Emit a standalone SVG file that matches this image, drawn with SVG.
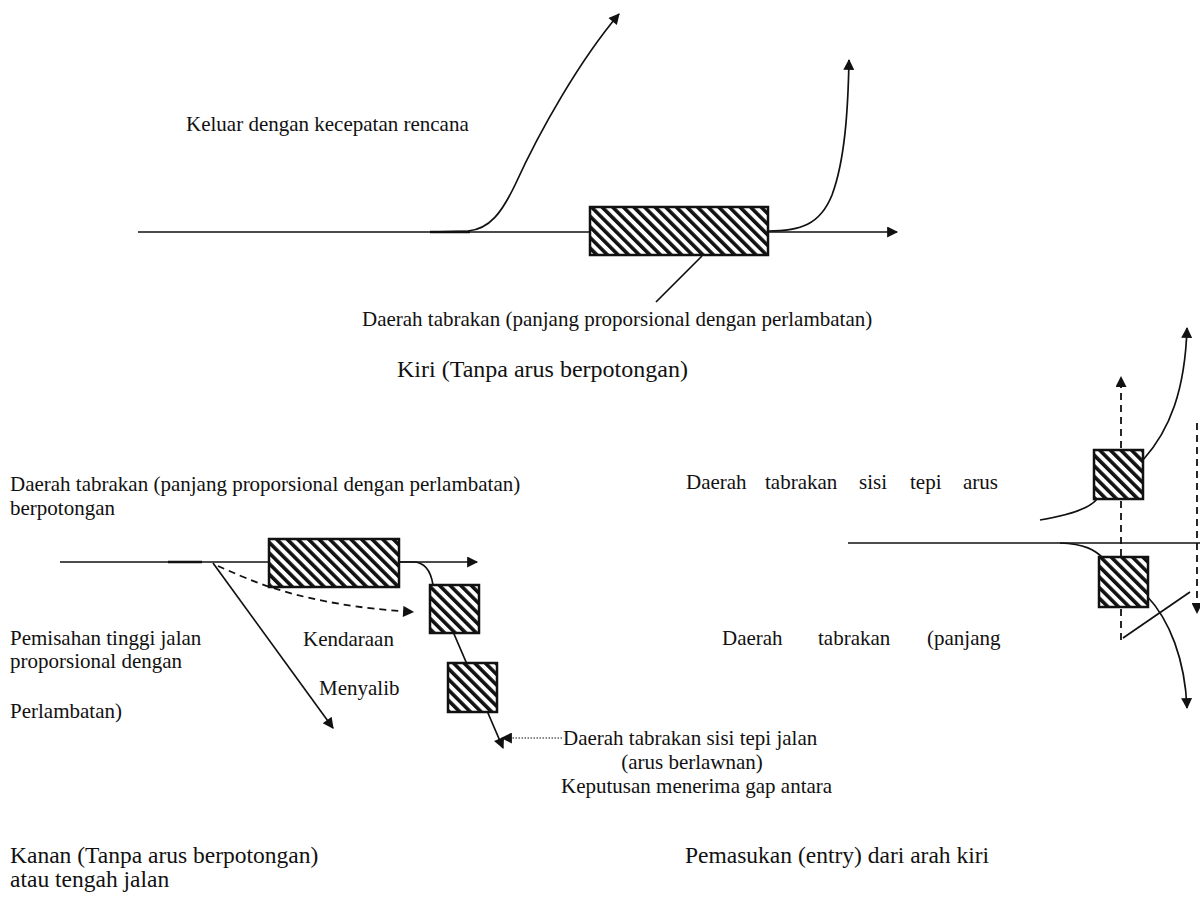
<svg xmlns="http://www.w3.org/2000/svg" width="1200" height="905" viewBox="0 0 1200 905">
<style>
text{font-family:"Liberation Serif","Times New Roman",serif;font-size:21px;fill:#111}
.big{font-size:24px}
.cap{font-size:23.5px}
.ln{fill:none;stroke:#111;stroke-width:1.7}
.thick{fill:none;stroke:#111;stroke-width:2.5}
.dash{fill:none;stroke:#111;stroke-width:1.8;stroke-dasharray:7,5}
.dot{fill:none;stroke:#111;stroke-width:1.2;stroke-dasharray:1.5,1.5}
.box{fill:url(#hatch);stroke:#111;stroke-width:2.5}
</style>
<defs>
<pattern id="hatch" patternUnits="userSpaceOnUse" width="7.5" height="7.5" patternTransform="rotate(-45)">
<rect width="7.5" height="7.5" fill="#fff"/>
<rect width="3.6" height="7.5" fill="#111"/>
</pattern>
<marker id="ah" viewBox="0 0 10 10" refX="9" refY="5" markerWidth="14" markerHeight="11" markerUnits="userSpaceOnUse" orient="auto">
<path d="M0,0 L10,5 L0,10 z" fill="#111"/>
</marker>
</defs>
<rect width="1200" height="905" fill="#fff"/>

<g id="connectors">
<path class="ln" d="M138,232 H897" marker-end="url(#ah)"/>
<path class="thick" d="M430,232 H470"/>
<path class="ln" d="M430,232 L468,231 C490,229 502,212 515,185 C540,130 580,60 619,14" marker-end="url(#ah)"/>
<path class="ln" d="M768,231 C800,231 820,225 832,195 C845,160 848,110 849,60" marker-end="url(#ah)"/>
<path class="ln" d="M702,256 L656,302"/>
<path class="ln" d="M60,562 H477" marker-end="url(#ah)"/>
<path class="thick" d="M168,562 H202"/>
<path class="ln" d="M213,563 L333,728" marker-end="url(#ah)"/>
<path class="dash" d="M218,566 C250,580 300,605 413,612" marker-end="url(#ah)"/>
<path class="ln" d="M399,562 L413,562 C425,562 431,572 433,585 L503,748" marker-end="url(#ah)"/>
<path class="dot" d="M562,738 H502" marker-end="url(#ah)"/>
<path class="ln" d="M848,543 H1200"/>
<path class="dash" d="M1121,640 V377" marker-end="url(#ah)"/>
<path class="dash" d="M1197,423 V613" marker-end="url(#ah)"/>
<path class="ln" d="M1040,520 C1070,515 1090,508 1097,499"/>
<path class="ln" d="M1143,460 C1170,430 1185,390 1187,328" marker-end="url(#ah)"/>
<path class="ln" d="M1060,543 C1085,544 1095,550 1103,558"/>
<path class="ln" d="M1146,595 C1170,620 1185,660 1187,708" marker-end="url(#ah)"/>
<path class="ln" d="M1123,638 L1190,592"/>
</g>

<g id="zone-top"><rect class="box" x="590" y="207" width="178" height="48"/></g>
<g id="zone-mid-main"><rect class="box" x="269" y="539" width="130" height="48"/></g>
<g id="zone-mid-1"><rect class="box" x="430" y="585" width="49" height="48"/></g>
<g id="zone-mid-2"><rect class="box" x="448" y="663" width="49" height="49"/></g>
<g id="zone-right-up"><rect class="box" x="1094" y="450" width="49" height="49"/></g>
<g id="zone-right-down"><rect class="box" x="1099" y="557" width="49" height="50"/></g>

<g id="labels-top">
<text x="186" y="131">Keluar dengan kecepatan rencana</text>
<text x="362" y="326">Daerah tabrakan (panjang proporsional dengan perlambatan)</text>
<text class="big" x="397" y="377">Kiri (Tanpa arus berpotongan)</text>
</g>

<g id="labels-left">
<text x="10" y="491">Daerah tabrakan (panjang proporsional dengan perlambatan)</text>
<text x="10" y="515">berpotongan</text>
<text x="10" y="645">Pemisahan tinggi jalan</text>
<text x="10" y="668">proporsional dengan</text>
<text x="10" y="718">Perlambatan)</text>
<text x="303" y="646">Kendaraan</text>
<text x="319" y="695">Menyalib</text>
<text x="563" y="745">Daerah tabrakan sisi tepi jalan</text>
<text x="692" y="769" text-anchor="middle">(arus berlawnan)</text>
<text x="561" y="793">Keputusan menerima gap antara</text>
<text class="cap" x="10" y="863">Kanan (Tanpa arus berpotongan)</text>
<text class="cap" x="10" y="887">atau tengah jalan</text>
</g>

<g id="labels-right">
<text y="489"><tspan x="686">Daerah</tspan><tspan x="765">tabrakan</tspan><tspan x="859">sisi</tspan><tspan x="910">tepi</tspan><tspan x="963">arus</tspan></text>
<text y="645"><tspan x="722">Daerah</tspan><tspan x="818">tabrakan</tspan><tspan x="927">(panjang</tspan></text>
<text class="cap" x="685" y="863">Pemasukan (entry) dari arah kiri</text>
</g>
</svg>
